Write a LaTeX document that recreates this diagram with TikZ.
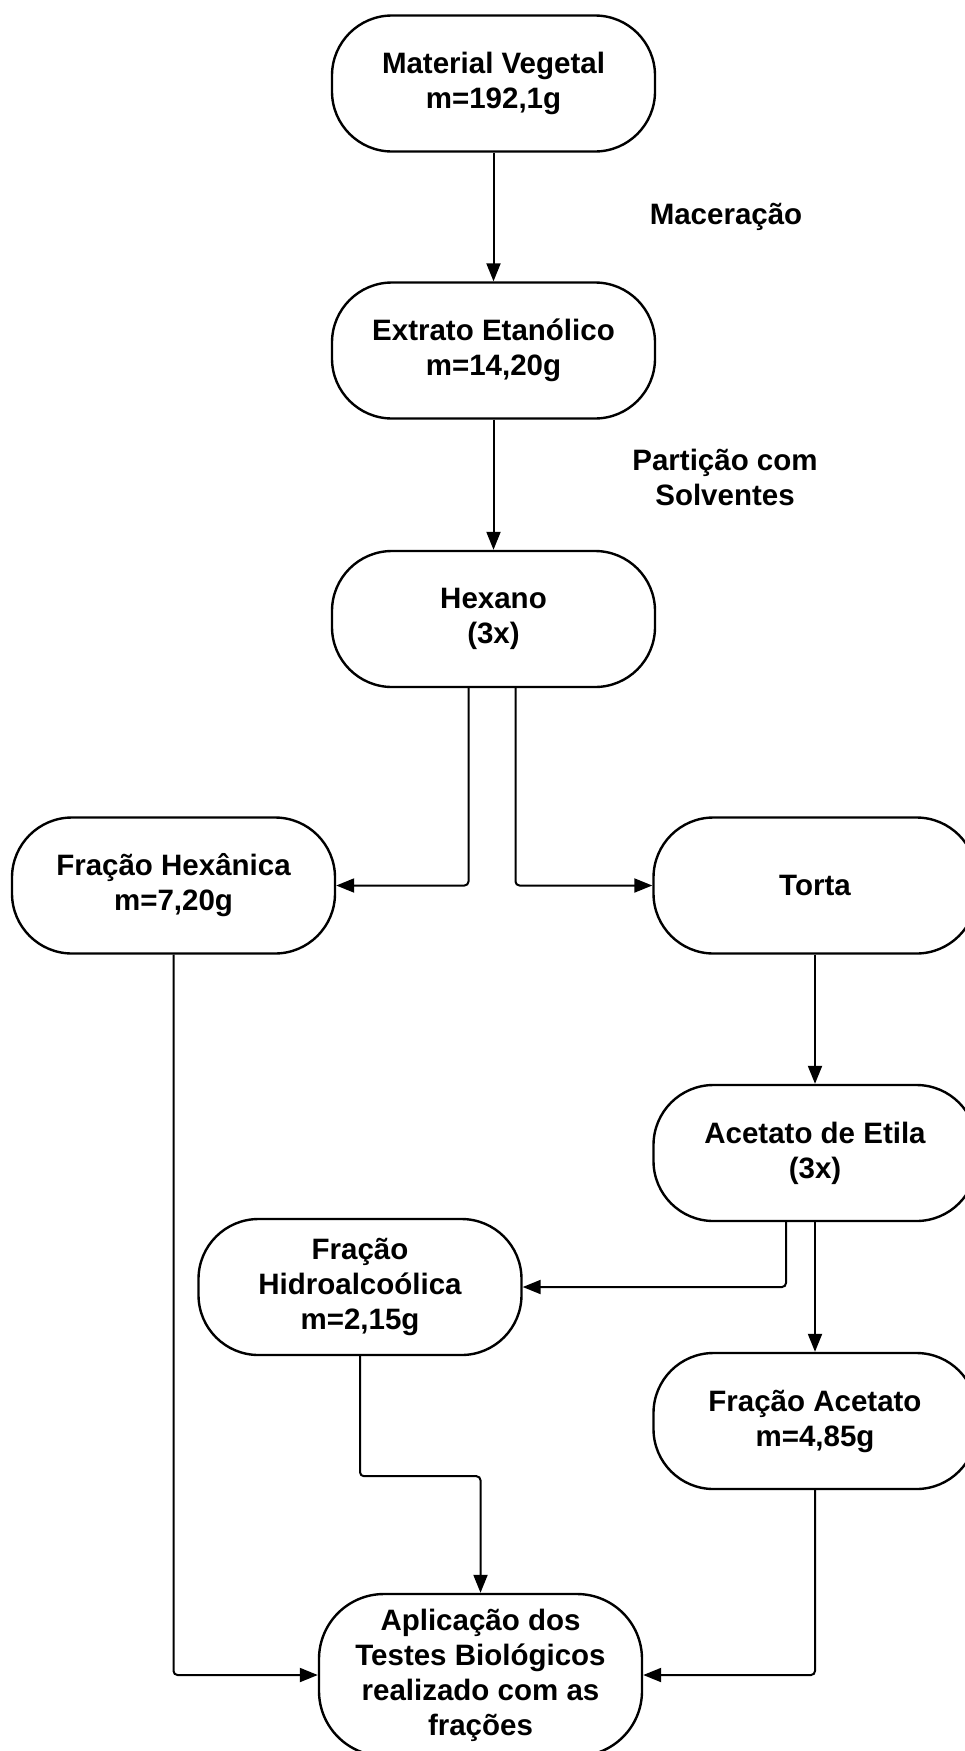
\documentclass[tikz,border=0pt]{standalone}
\usepackage{fontspec}
\setmainfont{Liberation Sans}
\usetikzlibrary{arrows.meta}
\tikzset{
  term/.style={draw=black, line width=2.4pt, rounded corners=60pt, minimum width=323pt, minimum height=136pt, inner sep=0pt, align=center, font=\bfseries\fontsize{29.5}{35}\selectfont},
  lbl/.style={align=center, inner sep=0pt, font=\bfseries\fontsize{29.5}{35}\selectfont},
  conn/.style={draw=black, line width=2pt, rounded corners=4pt, -{Triangle[length=18pt,width=14pt]}}
}
\begin{document}
\begin{tikzpicture}[x=1pt,y=-1pt]
\useasboundingbox (0,0) rectangle (964,1751);
\node[term] (mv) at (493.5,83.5) {Material Vegetal\\m=192,1g};
\node[term] (ee) at (493.5,350.5) {Extrato Etanólico\\m=14,20g};
\node[term] (hx) at (493.5,619) {Hexano\\(3x)};
\node[term] (fh) at (173.5,885.5) {Fração Hexânica\\m=7,20g};
\node[term] (torta) at (815,885.5) {Torta};
\node[term] (ac) at (815,1153) {Acetato de Etila\\(3x)};
\node[term] (hidro) at (360,1287) {Fração\\Hidroalcoólica\\m=2,15g};
\node[term] (fa) at (815,1421) {Fração Acetato\\m=4,85g};
\node[term, minimum height=162pt, rounded corners=65pt] (ap) at (480.5,1675) {Aplicação dos\\Testes Biológicos\\realizado com as\\frações};
\node[lbl] (mac) at (726,217) {Maceração};
\node[lbl] (part) at (725,477) {Partição com\\Solventes};
\draw[conn] (mv.south) -- (ee.north);
\draw[conn] (ee.south) -- (hx.north);
\draw[conn] ([xshift=-25pt]hx.south) |- (fh.east);
\draw[conn] ([xshift=22pt]hx.south) |- (torta.west);
\draw[conn] (torta.south) -- (ac.north);
\draw[conn] ([xshift=-29pt]ac.south) |- (hidro.east);
\draw[conn] (ac.south) -- (fa.north);
\draw[conn] (fh.south) |- (ap.west);
\draw[conn] (fa.south) |- (ap.east);
\draw[conn] (hidro.south) -- ++(0,120) -| (ap.north);
\end{tikzpicture}
\end{document}
